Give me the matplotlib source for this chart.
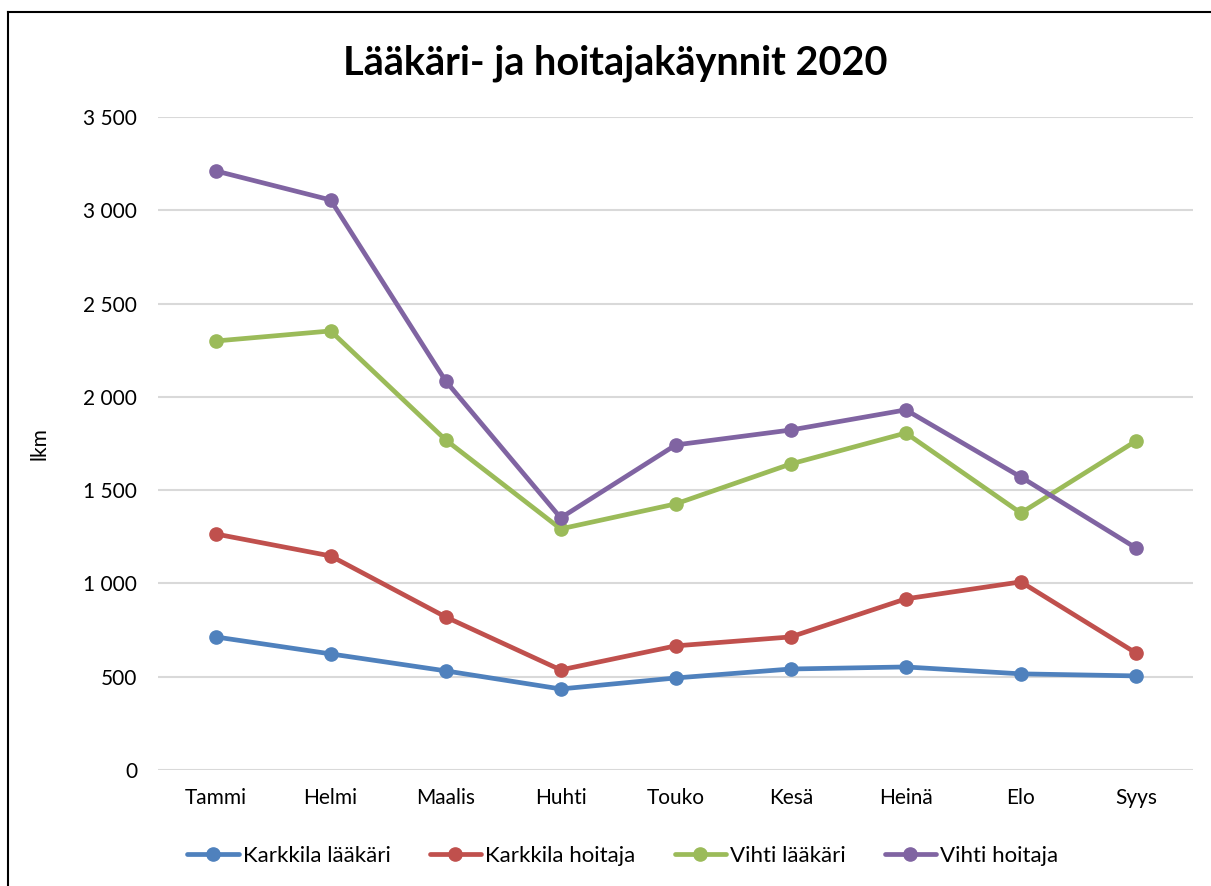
import matplotlib
matplotlib.use("Agg")
import matplotlib.pyplot as plt
from matplotlib.lines import Line2D
from matplotlib.ticker import FuncFormatter

plt.rcParams["font.family"] = ["Lato", "DejaVu Sans"]

months = ["Tammi", "Helmi", "Maalis", "Huhti", "Touko", "Kesä", "Heinä", "Elo", "Syys"]

karkkila_laakari = [713, 622, 531, 434, 493, 541, 552, 515, 504]
karkkila_hoitaja = [1265, 1147, 820, 536, 665, 713, 917, 1008, 627]
vihti_laakari = [2299, 2353, 1769, 1292, 1426, 1640, 1806, 1377, 1763]
vihti_hoitaja = [3211, 3055, 2085, 1351, 1742, 1822, 1930, 1570, 1190]

series = [
    ("Karkkila lääkäri", karkkila_laakari, "#4F81BD"),
    ("Karkkila hoitaja", karkkila_hoitaja, "#C0504D"),
    ("Vihti lääkäri", vihti_laakari, "#9BBB59"),
    ("Vihti hoitaja", vihti_hoitaja, "#8064A2"),
]

fig = plt.figure(figsize=(12.11, 8.86), dpi=100)
ax = fig.add_axes([0.1305, 0.131, 0.855, 0.737])

x = list(range(len(months)))
for label, vals, color in series:
    ax.plot(x, vals, color=color, lw=3.4, marker="o", ms=9.5, label=label,
            solid_capstyle="round")

ax.set_xlim(-0.5, len(months) - 0.5)
ax.set_ylim(0, 3500)
ax.set_yticks(range(0, 3501, 500))
ax.yaxis.set_major_formatter(FuncFormatter(lambda v, _: f"{int(v):,}".replace(",", " ")))
ax.set_xticks(x)
ax.set_xticklabels(months)
ax.tick_params(axis="both", length=0, labelsize=15, colors="black")
ax.tick_params(axis="y", pad=15)
ax.tick_params(axis="x", pad=13)
ax.grid(axis="y", color="#D9D9D9", lw=1.5)
ax.set_axisbelow(True)
for s in ax.spines.values():
    s.set_visible(False)

ax.set_ylabel("lkm", fontsize=15, labelpad=24)
fig.text(0.508, 0.929, "Lääkäri- ja hoitajakäynnit 2020", ha="center", va="center",
         fontsize=28.5, fontweight="bold")

ax.legend(loc="center", bbox_to_anchor=(0.449, -0.132), ncol=4, frameon=False,
          fontsize=16, handlelength=2.3, handletextpad=0.2, columnspacing=1.75)

# outer chart frame
fig.add_artist(Line2D([8 / 1211, 1.0], [1 - 12 / 886, 1 - 12 / 886], color="black", lw=1.5))
fig.add_artist(Line2D([8 / 1211, 8 / 1211], [0.0, 1 - 12 / 886], color="black", lw=1.5))

fig.savefig("out.png", dpi=100)
